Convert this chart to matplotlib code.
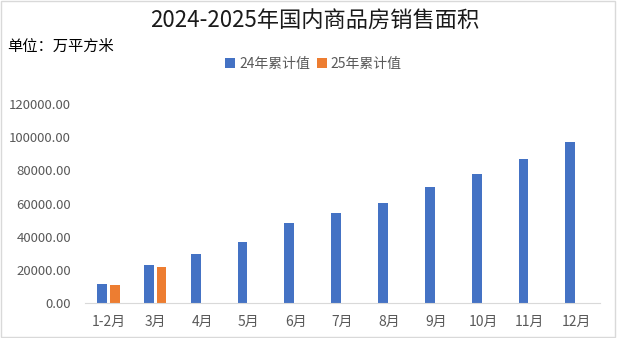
import matplotlib.pyplot as plt
import numpy as np

plt.rcParams['font.family'] = ['Noto Sans CJK SC', 'DejaVu Sans']

months = ['1-2月', '3月', '4月', '5月', '6月', '7月', '8月', '9月', '10月', '11月', '12月']
sales_2024 = [11369, 22668, 29252, 36642, 47916, 54193, 60117, 70284, 77930, 86824, 97385]
sales_2025 = [10717, 21869]

blue = '#4472c4'
orange = '#ed7d31'
grey = '#595959'

fig = plt.figure(figsize=(6.17, 3.38), dpi=100)
ax = fig.add_axes([85 / 617, 0.1044, 515 / 617, 0.587])

x = np.arange(len(months))
w = 0.21
ax.bar(x - 0.135, sales_2024, width=w, color=blue, label='24年累计值')
ax.bar(x[:len(sales_2025)] + 0.135, sales_2025, width=w, color=orange, label='25年累计值')

ax.set_xlim(-0.5, len(months) - 0.5)
ax.set_ylim(0, 120000)
ax.set_yticks(np.arange(0, 120001, 20000))
ax.yaxis.set_major_formatter(plt.FuncFormatter(lambda v, p: f'{v:.2f}'))
ax.set_xticks(x)
ax.set_xticklabels(months)
ax.tick_params(axis='both', length=0, colors=grey)
ax.tick_params(axis='y', pad=10, labelsize=9.5)
ax.tick_params(axis='x', pad=9, labelsize=10)

for s in ['top', 'right', 'left']:
    ax.spines[s].set_visible(False)
ax.spines['bottom'].set_color('#d9d9d9')

fig.text(0.51, 0.938, '2024-2025年国内商品房销售面积', ha='center', va='center',
         fontsize=16, color='#1a1a1a')
fig.text(0.012, 0.862, '单位：万平方米', ha='left', va='center', fontsize=11, color='black')

fig.legend(loc='center', bbox_to_anchor=(0.508, 0.812), ncol=2, frameon=False,
           fontsize=10, handlelength=0.7, handleheight=0.7, handletextpad=0.3,
           columnspacing=0.5, labelcolor=grey)

# thin frame around the whole figure
fig.patches.append(plt.Rectangle((0.002, 0.003), 0.995, 0.993, transform=fig.transFigure,
                                 fill=False, edgecolor='#d9d9d9', linewidth=1))

fig.savefig('out.png', dpi=100)
